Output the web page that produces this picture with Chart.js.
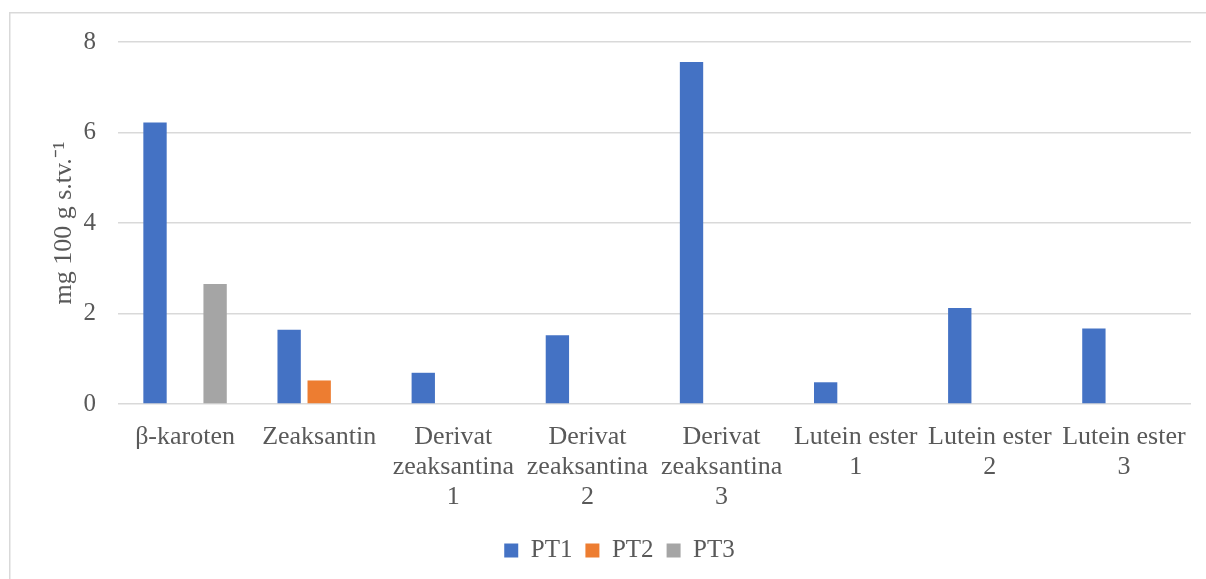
<!DOCTYPE html>
<html>
<head>
<meta charset="utf-8">
<script src="https://cdn.jsdelivr.net/npm/chart.js@4.4.1/dist/chart.umd.min.js"></script>
<style>
  html, body { margin: 0; padding: 0; background: #ffffff; }
  #wrap { position: relative; width: 1206px; height: 579px; }
</style>
</head>
<body>
<div id="wrap"><canvas id="c" width="1206" height="579"></canvas></div>
<script>
const categories = [
  "β-karoten",
  "Zeaksantin",
  ["Derivat", "zeaksantina", "1"],
  ["Derivat", "zeaksantina", "2"],
  ["Derivat", "zeaksantina", "3"],
  ["Lutein ester", "1"],
  ["Lutein ester", "2"],
  ["Lutein ester", "3"]
];
const seriesNames = ["PT1", "PT2", "PT3"];
const pt1 = [6.22, 1.64, 0.69, 1.52, 7.56, 0.48, 2.12, 1.67];
const pt2 = [null, 0.52, null, null, null, null, null, null];
const pt3 = [2.65, null, null, null, null, null, null, null];
const yTicks = [0, 2, 4, 6, 8];
const yTitle = "mg 100 g s.tv.\u207B\u00B9";

const FONT = "'Liberation Serif', 'Times New Roman', serif";
const TXT = "#595959";

const borderPlugin = {
  id: 'outerBorder',
  beforeDraw(chart) {
    const ctx = chart.ctx;
    ctx.save();
    ctx.strokeStyle = '#D9D9D9';
    ctx.lineWidth = 1.5;
    ctx.beginPath();
    ctx.moveTo(9.75, chart.height + 5);
    ctx.lineTo(9.75, 12.75);
    ctx.lineTo(chart.width + 5, 12.75);
    ctx.stroke();
    ctx.restore();
  }
};

new Chart(document.getElementById('c'), {
  type: 'bar',
  data: {
    labels: categories,
    datasets: [
      { label: seriesNames[0], data: pt1, backgroundColor: '#4472C4' },
      { label: seriesNames[1], data: pt2, backgroundColor: '#ED7D31' },
      { label: seriesNames[2], data: pt3, backgroundColor: '#A5A5A5' }
    ]
  },
  options: {
    responsive: false,
    animation: false,
    devicePixelRatio: 1,
    layout: { padding: { top: 42, left: 48, right: 15, bottom: 6 } },
    datasets: { bar: { categoryPercentage: 0.672, barPercentage: 0.777 } },
    scales: {
      x: {
        grid: { display: false, drawTicks: false },
        border: { display: false },
        ticks: {
          color: TXT, font: { family: FONT, size: 26, lineHeight: 1.16 },
          padding: 18, maxRotation: 0, autoSkip: false
        },
        afterFit(scale) { scale.height = 121; }
      },
      y: {
        min: 0, max: 8,
        afterBuildTicks(scale) { scale.ticks = yTicks.map(v => ({ value: v })); },
        grid: { color: '#D9D9D9', lineWidth: 1.5, drawTicks: false },
        border: { display: false },
        ticks: { color: TXT, font: { family: FONT, size: 25 }, padding: 22 },
        title: {
          display: true, text: yTitle, color: TXT,
          font: { family: FONT, size: 26, lineHeight: 1.2 },
          padding: { top: 1, bottom: 0 }
        },
        afterFit(scale) { scale.width = 70; }
      }
    },
    plugins: {
      legend: {
        position: 'bottom',
        labels: {
          color: TXT, font: { family: FONT, size: 25 },
          boxWidth: 14, boxHeight: 14, padding: 13
        }
      },
      tooltip: { enabled: false }
    }
  },
  plugins: [borderPlugin]
});
</script>
</body>
</html>
